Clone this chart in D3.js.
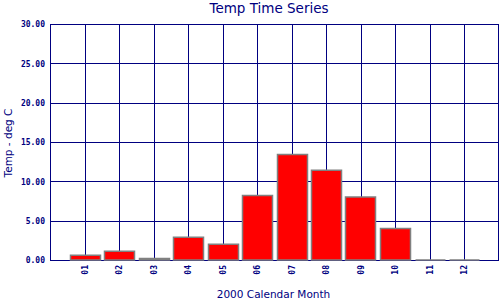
<!DOCTYPE html>
<head>
  <meta charset="utf-8">
  <script src="https://d3js.org/d3.v7.min.js"></script>
  <style>
    body { margin:0; background:#ffffff; }
    .tick text { font-family: "DejaVu Sans Mono", monospace; font-weight: bold; font-size: 8px; fill: #000080; }
    .tick line { shape-rendering: crispEdges; }
    .lbl { font-family: "DejaVu Sans", sans-serif; fill: #000080; }
  </style>
</head>

<body>
  <script>
    // data
    var months = ["01", "02", "03", "04", "05", "06", "07", "08", "09", "10", "11", "12"];
    var temps = [0.6, 1.1, 0.2, 2.9, 2.0, 8.2, 13.4, 11.4, 8.0, 4.0, 0.0, 0.0];
    var yTicks = [0, 5, 10, 15, 20, 25, 30];

    var navy = "#000080";
    var plotL = 50, plotR = 498.5, plotT = 24, plotB = 260;

    var svg = d3.select("body")
      .append("svg")
      .attr("width", 500)
      .attr("height", 300);

    // months sit at 1..12, with a spare slot on each side
    var x = d3.scaleLinear().domain([0, months.length + 1]).range([plotL, plotR]);
    var y = d3.scaleLinear().domain([0, 30]).range([plotB, plotT]);

    // horizontal grid + y labels
    var yAxis = svg.append("g")
      .attr("transform", "translate(" + plotL + ",0)")
      .call(d3.axisLeft(y)
        .tickValues(yTicks)
        .tickSize(-(plotR - plotL))
        .tickPadding(5)
        .tickFormat(d3.format(".2f")));
    yAxis.select(".domain").remove();
    yAxis.selectAll("line").attr("stroke", navy);
    yAxis.selectAll("text").attr("dy", "0.35em");

    // vertical grid + month labels
    var xAxis = svg.append("g")
      .attr("transform", "translate(0," + plotB + ")")
      .call(d3.axisBottom(x)
        .tickValues(d3.range(1, months.length + 1))
        .tickSize(-(plotB - plotT))
        .tickFormat(function (d) { return months[d - 1]; }));
    xAxis.select(".domain").remove();
    xAxis.selectAll("line").attr("stroke", navy);
    xAxis.selectAll("text")
      .attr("y", 0)
      .attr("x", -5)
      .attr("dy", "0.33em")
      .style("text-anchor", "end")
      .attr("transform", "rotate(-90)");

    // frame
    svg.append("rect")
      .attr("x", x(0) + 0.5)
      .attr("y", y(30) + 0.5)
      .attr("width", x(months.length + 1) - x(0) - 0.5)
      .attr("height", y(0) - y(30))
      .attr("fill", "none")
      .attr("stroke", navy)
      .attr("stroke-width", 1)
      .style("shape-rendering", "crispEdges");

    // bars (paths so zero values still show their outline)
    var barW = x(0.87) - x(0);
    svg.append("g")
      .selectAll("path")
      .data(temps)
      .enter()
      .append("path")
      .attr("d", function (d, i) {
        var cx = Math.round(x(i + 1)) + 0.5;
        var x0 = cx - barW / 2, x1 = cx + barW / 2;
        return "M" + x0 + "," + y(0) + "V" + y(d) + "H" + x1 + "V" + y(0) + "Z";
      })
      .attr("fill", "#ff0000")
      .attr("stroke", "#808080")
      .attr("stroke-width", 1.5);

    // titles
    svg.append("text")
      .attr("class", "lbl")
      .attr("x", 269)
      .attr("y", 13)
      .attr("text-anchor", "middle")
      .style("font-size", "13.5px")
      .text("Temp Time Series");

    svg.append("text")
      .attr("class", "lbl")
      .attr("x", 273.5)
      .attr("y", 298)
      .attr("text-anchor", "middle")
      .style("font-size", "10.5px")
      .text("2000 Calendar Month");

    svg.append("text")
      .attr("class", "lbl")
      .attr("transform", "translate(12," + ((plotT + plotB) / 2 + 1) + ") rotate(-90)")
      .attr("text-anchor", "middle")
      .style("font-size", "10.5px")
      .text("Temp - deg C");
  </script>
</body>
